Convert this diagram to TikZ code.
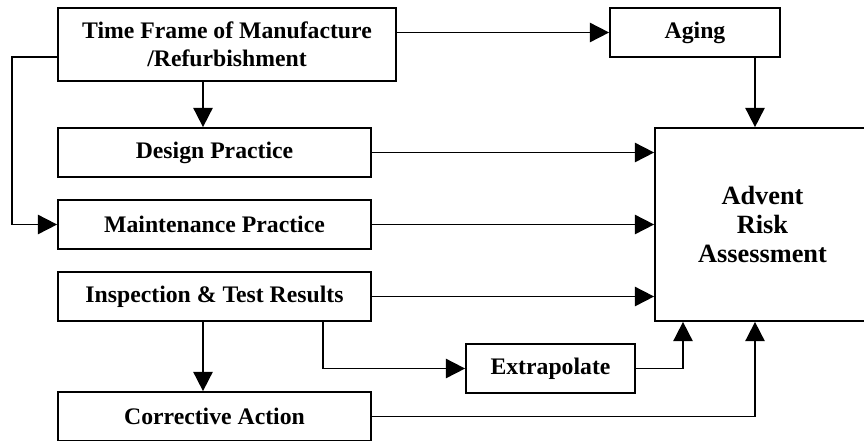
\documentclass[tikz,border=0pt]{standalone}
\usepackage{fontspec}
\setmainfont{Liberation Serif}
\usetikzlibrary{arrows.meta}
\usetikzlibrary{calc}

\tikzset{
  blockbox/.style={draw, line width=1pt, inner sep=0pt, align=center,
    font=\fontsize{13.5}{16}\selectfont\bfseries},
  arr/.style={line width=1pt, -{Triangle[length=11pt,width=11pt]}}
}

\begin{document}
\begin{tikzpicture}[x=0.02cm, y=-0.02cm]

\useasboundingbox (0,0) rectangle (864,440);
\clip (0,0) rectangle (864,440);

% blocks
\node[blockbox, minimum width=6.76cm, minimum height=1.46cm] (frame) at (227,44.5) {Time Frame of Manufacture\\/Refurbishment};
\node[blockbox, minimum width=3.4cm, minimum height=0.98cm] (aging) at (695,32.5) {Aging};
\node[blockbox, minimum width=6.26cm, minimum height=0.98cm] (design) at (214.5,152.5) {Design Practice};
\node[blockbox, minimum width=6.26cm, minimum height=0.98cm] (maint) at (214.5,224.5) {Maintenance Practice};
\node[blockbox, minimum width=6.26cm, minimum height=0.98cm] (insp) at (214.5,296.5) {Inspection \& Test Results};
\node[blockbox, minimum width=6.26cm, minimum height=0.98cm] (corr) at (214.5,416.5) {Corrective Action};
\node[blockbox, minimum width=3.38cm, minimum height=0.98cm] (extra) at (550.5,368.5) {Extrapolate};
\node[blockbox, minimum width=4.3cm, minimum height=3.86cm, font=\fontsize{15}{16.5}\selectfont\bfseries] (advent) at (762.5,224.5) {Advent\\Risk\\Assessment};

% helper columns
\coordinate (colA) at (203,0);
\coordinate (colB) at (755,0);
\coordinate (colC) at (683,0);
\coordinate (colD) at (323,0);
\coordinate (side) at (12,57);

%%% from time frame
\draw[arr] (frame.east |- aging.west) -- (aging.west);
\draw[arr] (frame.south -| colA) -- (design.north -| colA);
\draw[arr] (frame.west |- side) -- (side) |- (maint.west);

%%% into advent
\draw[arr] (aging.south -| colB) -- (advent.north -| colB);
\draw[arr] (design.east) -- (advent.west |- design.east);
\draw[arr] (maint.east) -- (advent.west |- maint.east);
\draw[arr] (insp.east) -- (advent.west |- insp.east);

%%% inspection branches
\draw[arr] (insp.south -| colA) -- (corr.north -| colA);
\draw[arr] (insp.south -| colD) |- (extra.west);
\draw[arr] (extra.east) -| (advent.south -| colC);
\draw[arr] (corr.east) -| (advent.south -| colB);

\end{tikzpicture}
\end{document}
